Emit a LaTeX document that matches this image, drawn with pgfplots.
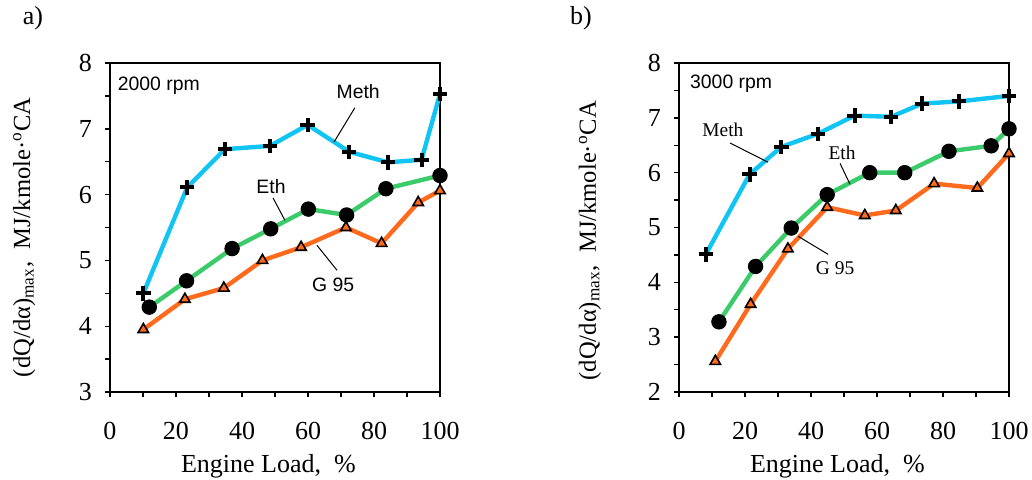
\documentclass[border=0pt]{standalone}
\usepackage{pgfplots}
\pgfplotsset{compat=1.18}
\usepackage{fontspec}
\setmainfont{Liberation Serif}
\newfontfamily\arial{Liberation Sans}
\definecolor{MethC}{HTML}{10C4F4}
\definecolor{EthC}{HTML}{3CCB6A}
\definecolor{GasC}{HTML}{FF6A1C}
\tikzset{lead/.style={black, line width=0.5pt}}

\pgfplotsset{
  panel/.style={
    width=165pt, height=164.5pt, scale only axis,
    xmin=0, xmax=100,
    xtick={0,20,...,100}, minor xtick={10,30,...,90},
    tick align=outside, xtick pos=left, ytick pos=left,
    major tick length=2.5pt, minor tick length=2.5pt,
    every tick/.style={black, line width=0.7pt},
    axis line style={line width=0.8pt},
    /pgf/number format/assume math mode=true,
    tick label style={font=\fontsize{13}{15.6}\selectfont},
    xticklabel style={anchor=base, yshift=-21pt},
    yticklabel style={xshift=-3pt},
    xlabel={Engine Load,\ \ \%},
    every axis x label/.style={at={(axis description cs:0.48,0)}, anchor=base,
      yshift=-40pt, font=\fontsize{13}{15.6}\selectfont},
    ylabel={(dQ/dα)\textsubscript{max},\ \ MJ/kmole·\textsuperscript{o}CA},
    clip=false,
  },
  meth/.style={MethC, line width=2.2pt, mark=+, mark size=3.6pt,
    mark options={black, line width=2pt}},
  eth/.style={EthC, line width=2.2pt, mark=*, mark size=3.6pt,
    mark options={black, fill=black, line width=0.5pt}},
  gas/.style={GasC, line width=2.2pt, mark=triangle*, mark size=3pt,
    mark options={draw=black, fill=GasC, line width=0.8pt}},
}

\begin{document}
\begin{tikzpicture}
% panel a)
\begin{axis}[panel,
  ymin=3, ymax=8, ytick={3,...,8}, minor ytick={3.5,4.5,...,7.5},
  every axis y label/.style={at={(axis description cs:-0.26,0.47)}, rotate=90,
    anchor=center, font=\fontsize{12.3}{14.5}\selectfont},
]
\addplot[meth] coordinates {(10.1,4.50) (23.4,6.11) (34.8,6.69) (48.5,6.74) (59.9,7.06) (72.5,6.65) (84.3,6.49) (94.4,6.53) (100,7.53)};
\addplot[eth] coordinates {(11.9,4.29) (23.2,4.69) (37.0,5.18) (48.7,5.48) (60.1,5.78) (71.7,5.69) (83.6,6.09) (100,6.29)};
\addplot[gas] coordinates {(10.1,3.95) (22.7,4.41) (34.5,4.58) (46.2,5.00) (57.9,5.20) (71.5,5.50) (82.3,5.26) (93.4,5.88) (100,6.06)};
\node[font=\arial\fontsize{9.7}{11}\selectfont] at (axis cs:14.8,7.65) {2000 rpm};
\node[font=\arial\fontsize{9.7}{11}\selectfont] at (axis cs:75.2,7.57) {Meth};
\draw[lead] (axis cs:74.2,7.32) -- (axis cs:67.9,6.80);
\node[font=\arial\fontsize{9.7}{11}\selectfont] at (axis cs:48.8,6.12) {Eth};
\draw[lead] (axis cs:49.4,5.95) -- (axis cs:53.0,5.61);
\node[font=\arial\fontsize{9.7}{11}\selectfont] at (axis cs:67.6,4.63) {G 95};
\draw[lead] (axis cs:68.8,4.85) -- (axis cs:62.7,5.23);
\end{axis}
\node[font=\fontsize{13}{15.6}\selectfont] at (-38.5pt,187pt) {a)};

% panel b)
\begin{axis}[panel, at={(284.5pt,0pt)}, anchor=south west,
  ymin=2, ymax=8, ytick={2,...,8}, minor ytick={2.5,3.5,...,7.5},
  every axis y label/.style={at={(axis description cs:-0.27,0.46)}, rotate=90,
    anchor=center, font=\fontsize{12.3}{14.5}\selectfont},
]
\addplot[meth] coordinates {(8.1,4.51) (21.4,5.97) (31.0,6.47) (42.1,6.71) (53.2,7.04) (64.3,7.02) (73.7,7.26) (84.8,7.30) (100,7.40)};
\addplot[eth] coordinates {(12.1,3.28) (23.2,4.29) (34.0,4.99) (44.9,5.60) (57.8,6.00) (68.4,6.00) (81.8,6.39) (94.6,6.49) (100,6.80)};
\addplot[gas] coordinates {(11.0,2.56) (21.7,3.60) (33.0,4.61) (44.9,5.37) (56.3,5.22) (65.7,5.31) (77.3,5.80) (90.4,5.72) (100,6.35)};
\node[font=\arial\fontsize{9.7}{11}\selectfont] at (axis cs:15.8,7.62) {3000 rpm};
\node[font=\fontsize{9.7}{11}\selectfont] at (axis cs:13.3,6.79) {Meth};
\draw[lead] (axis cs:15.5,6.54) -- (axis cs:27.0,6.19);
\node[font=\fontsize{9.7}{11}\selectfont] at (axis cs:49.4,6.37) {Eth};
\draw[lead] (axis cs:48.8,6.17) -- (axis cs:51.8,5.79);
\node[font=\fontsize{9.7}{11}\selectfont] at (axis cs:47.3,4.25) {G 95};
\draw[lead] (axis cs:45.2,4.51) -- (axis cs:36.1,4.84);
\end{axis}
\node[font=\fontsize{13}{15.6}\selectfont] at (235.5pt,187pt) {b)};

\pgfresetboundingbox
\path[use as bounding box] (-55pt,-43.5pt) rectangle (461pt,196pt);
\end{tikzpicture}
\end{document}
